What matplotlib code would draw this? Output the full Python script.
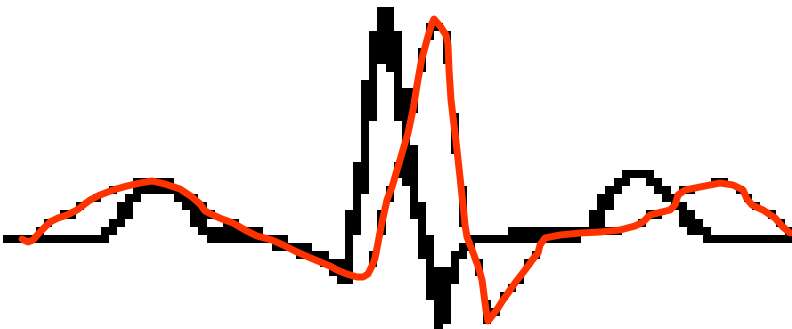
import numpy as np
import matplotlib
matplotlib.use('Agg')
import matplotlib.pyplot as plt
from matplotlib.colors import ListedColormap

# trace noire (signal brut), temps en ms et amplitude en mV
t_brut = [10, 100, 108, 116, 124, 130, 137, 145, 165, 175, 183, 190, 197, 205, 213,
          240, 260, 275, 290, 305, 318, 325, 332, 340, 344, 349, 350, 355, 360, 365,
          368, 372, 377, 381, 385, 389, 391, 394, 398, 402, 405, 408, 411, 414, 419,
          423, 427, 432, 436, 438, 439, 442, 446, 451, 458, 466, 474, 482, 500, 520,
          550, 580, 590, 597, 602, 607, 613, 620, 628, 645, 655, 665, 673, 682, 690,
          698, 707, 720, 785]
v_brut = [0.00, 0.00, 0.05, 0.13, 0.25, 0.36, 0.46, 0.54, 0.54, 0.49, 0.41, 0.31, 0.22, 0.13, 0.05,
          0.03, 0.02, -0.03, -0.08, -0.13, -0.17, -0.20, -0.24, -0.31, -0.39, -0.29, -0.01, 0.29, 0.54, 0.89,
          1.24, 1.59, 1.89, 2.14, 2.28, 2.28, 2.09, 1.84, 1.59, 1.39, 1.14, 0.89, 0.64, 0.44, 0.29,
          0.09, -0.11, -0.31, -0.51, -0.71, -0.84, -0.79, -0.51, -0.33, -0.19, -0.08, -0.01, 0.00, 0.01, 0.03,
          0.04, 0.06, 0.11, 0.19, 0.29, 0.39, 0.49, 0.59, 0.64, 0.64, 0.59, 0.49, 0.39, 0.27, 0.17,
          0.09, 0.02, 0.01, 0.01]

# trace rouge (signal lissé / reconstruit)
t_lisse = [22, 28, 33, 40, 50, 58, 67, 77, 90, 100, 113, 127, 140, 152, 165,
           180, 192, 200, 205, 213, 222, 233, 245, 257, 272, 283, 297, 313, 330, 337,
           347, 357, 363, 368, 372, 375, 378, 382, 387, 392, 400, 408, 413, 417, 422,
           427, 432, 434, 440, 446, 448, 449, 451, 455, 460, 463, 465, 467, 472, 478,
           482, 484, 486, 488, 492, 498, 503, 508, 515, 525, 533, 538, 540, 545, 560,
           580, 600, 620, 635, 643, 650, 658, 670, 675, 678, 685, 700, 720, 733, 743,
           747, 752, 763, 775, 783, 790]
v_lisse = [0.00, -0.03, -0.01, 0.07, 0.17, 0.21, 0.24, 0.29, 0.39, 0.44, 0.49, 0.53, 0.56, 0.58, 0.55,
           0.50, 0.42, 0.35, 0.28, 0.24, 0.20, 0.16, 0.09, 0.03, -0.01, -0.06, -0.13, -0.20, -0.27, -0.31,
           -0.35, -0.38, -0.38, -0.35, -0.27, -0.19, -0.04, 0.17, 0.39, 0.52, 0.79, 1.06, 1.29, 1.54, 1.81,
           1.99, 2.16, 2.20, 2.13, 2.04, 1.94, 1.69, 1.39, 1.06, 0.62, 0.34, 0.14, 0.02, -0.11, -0.27,
           -0.41, -0.56, -0.71, -0.82, -0.77, -0.69, -0.61, -0.54, -0.44, -0.31, -0.20, -0.14, -0.06, 0.01, 0.04,
           0.06, 0.07, 0.09, 0.13, 0.17, 0.24, 0.26, 0.29, 0.34, 0.44, 0.49, 0.52, 0.56, 0.54, 0.49,
           0.40, 0.34, 0.29, 0.21, 0.12, 0.06]

W, H = 792, 329
Y0 = 239       # ligne de base en pixels
ECHELLE = 100  # pixels par mV
CASE = 8.14    # taille d'un "pixel" de la trace noire
X_GRILLE, Y_GRILLE = 3.1, -1.14


def vers_pixels(t, v):
    return np.asarray(t, float), Y0 - ECHELLE * np.asarray(v, float)


def echantillonner(x, y, pas=0.5):
    seg = np.hypot(np.diff(x), np.diff(y))
    s = np.concatenate([[0], np.cumsum(seg)])
    ss = np.arange(0, s[-1], pas)
    return np.interp(ss, s, x), np.interp(ss, s, y)


def pixeliser(t, v, rayon, ncol, nlig):
    px, py = echantillonner(*vers_pixels(t, v))
    cx = X_GRILLE + CASE * (np.arange(ncol) + 0.5)
    cy = Y_GRILLE + CASE * (np.arange(nlig) + 0.5)
    gx, gy = np.meshgrid(cx, cy)
    d = np.full(gx.shape, np.inf)
    for a, b in zip(px, py):
        d = np.minimum(d, np.hypot(gx - a, gy - b))
    return d < rayon


ncol = int(np.ceil((W - X_GRILLE) / CASE))
nlig = int(np.ceil((H - Y_GRILLE) / CASE))
grille = pixeliser(t_brut, v_brut, 6.3, ncol, nlig) | pixeliser(t_lisse, v_lisse, 2.2, ncol, nlig)

fig = plt.figure(figsize=(W / 100, H / 100), dpi=100)
ax = fig.add_axes([0, 0, 1, 1])

etendue = [X_GRILLE, X_GRILLE + ncol * CASE,
           (Y0 - (Y_GRILLE + nlig * CASE)) / ECHELLE, (Y0 - Y_GRILLE) / ECHELLE]
ax.imshow(np.ma.masked_where(~grille, grille.astype(float)), cmap=ListedColormap(['black']),
          interpolation='nearest', extent=etendue, origin='upper', aspect='auto')

ax.plot(t_lisse, v_lisse, color='#ff3300', linewidth=5, solid_capstyle='round',
        solid_joinstyle='round')

ax.set_xlim(0, W)
ax.set_ylim((Y0 - H) / ECHELLE, Y0 / ECHELLE)
ax.axis('off')

fig.savefig('out.png', dpi=100, facecolor='white')
